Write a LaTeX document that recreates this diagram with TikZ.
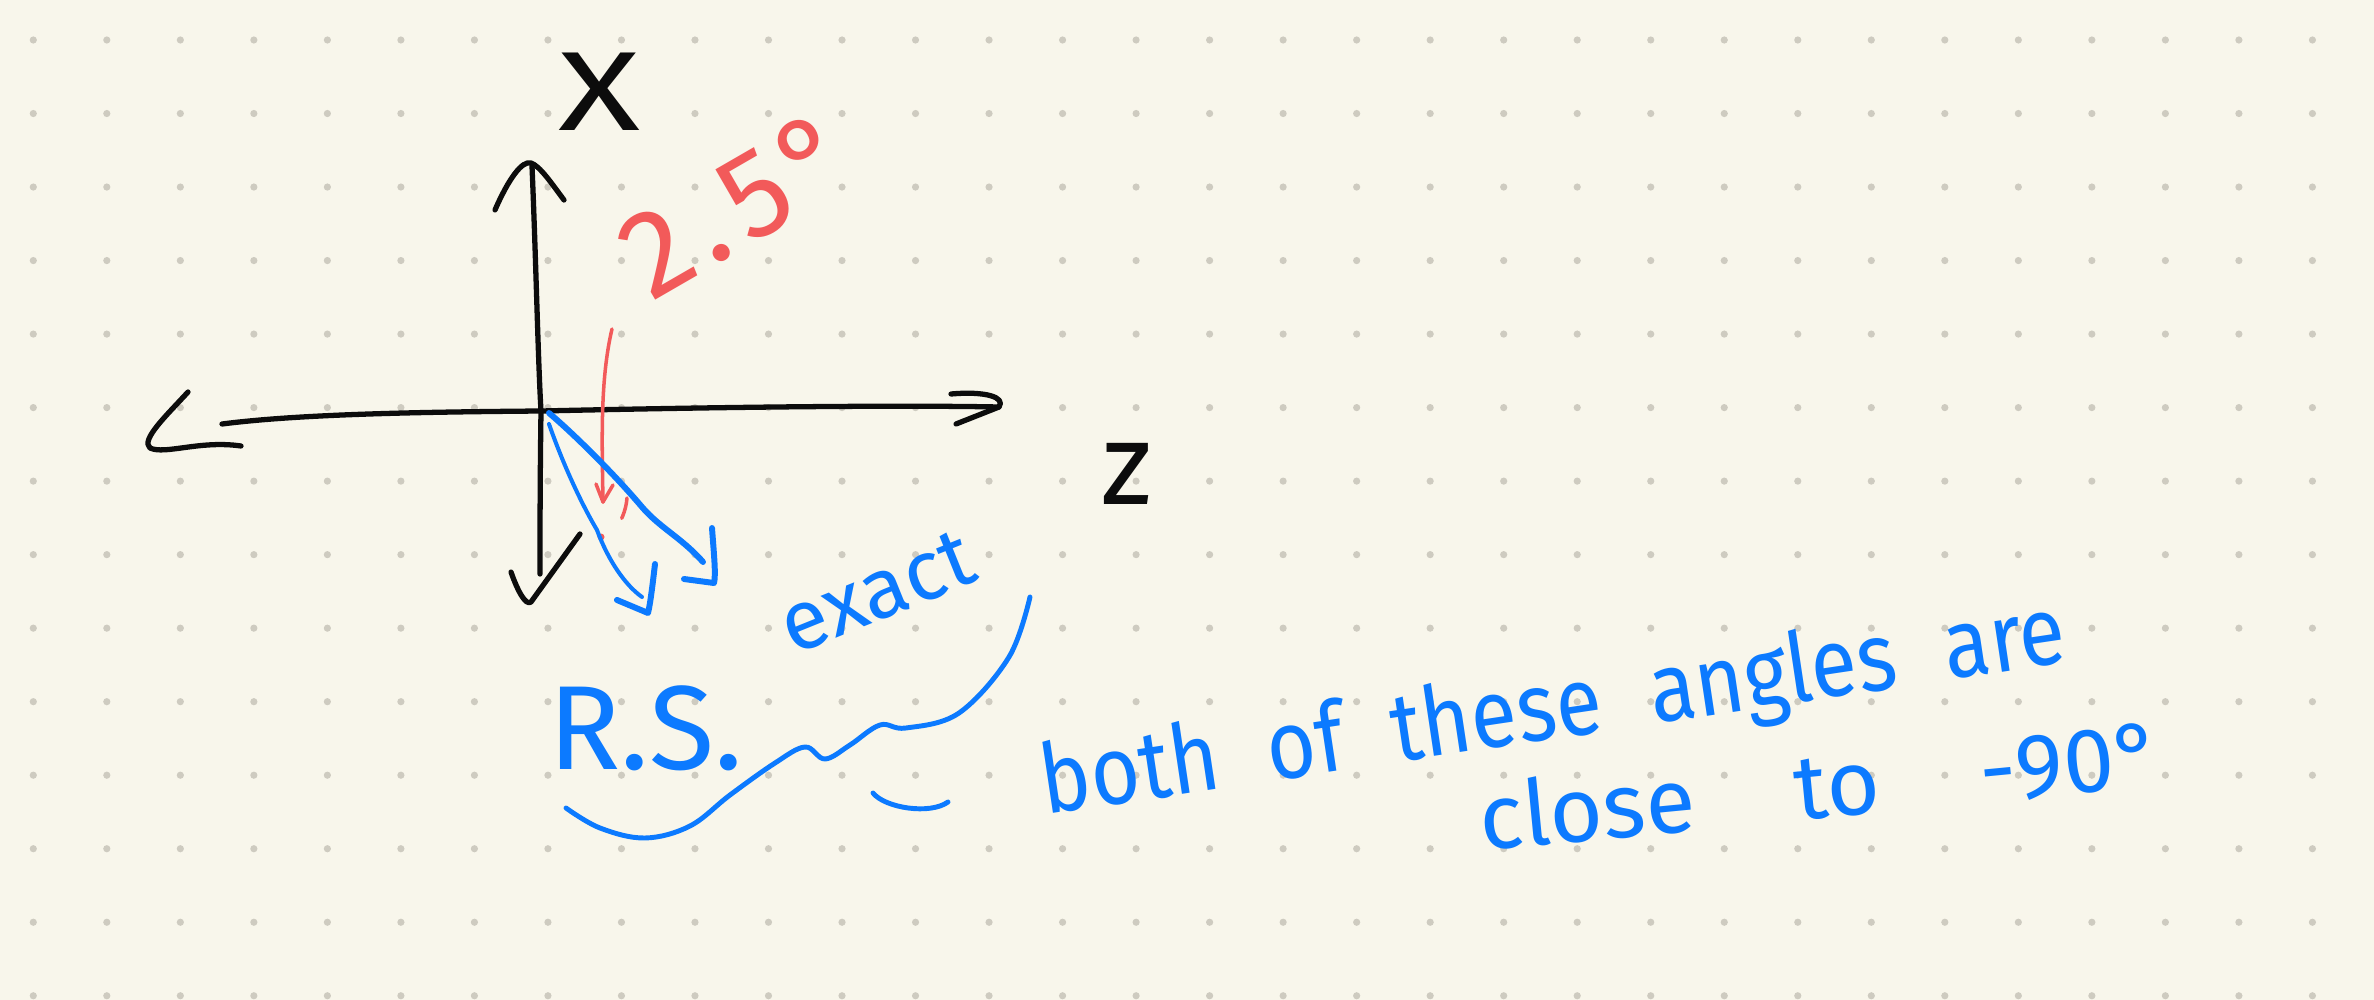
\documentclass[tikz,border=0pt]{standalone}
\usepackage{fontspec}
\setmainfont{Fira Sans}
\definecolor{paper}{RGB}{248,246,235}
\definecolor{dotc}{RGB}{206,203,192}
\definecolor{ink}{RGB}{12,12,12}
\definecolor{redink}{RGB}{242,90,90}
\definecolor{blueink}{RGB}{12,122,255}
\begin{document}
\begin{tikzpicture}[x=0.01cm,y=-0.01cm,line cap=round,line join=round,
  axispen/.style={draw=ink,line width=1.5pt},
  redpen/.style={draw=redink,line width=1.0pt},
  bluethick/.style={draw=blueink,line width=1.7pt},
  bluethin/.style={draw=blueink,line width=1.15pt},
  bluetext/.style={text=blueink,inner sep=0pt},
  blacktext/.style={text=ink,inner sep=0pt},
  redtext/.style={text=redink,inner sep=0pt}]
% paper
\fill[paper] (0,0) rectangle (2374,1000);
\useasboundingbox (0,0) rectangle (2374,1000);
\foreach \i in {0,...,31}{\foreach \j in {0,...,13}{
  \fill[dotc] (33.3+73.52*\i,40+73.52*\j) circle[radius=3.6];}}
% named points
\coordinate (O) at (541,411);
\coordinate (vtop) at (532,166);
\coordinate (vbot) at (540,574);
\coordinate (hleft) at (222,424);
\coordinate (hright) at (999,407);
% vertical axis
\draw[axispen] (vtop) .. controls (536,260) and (538,360) .. (O) .. controls (540,480) and (540,540) .. (vbot);
\draw[axispen] (495,210) .. controls (508,180) and (522,160) .. (531,163) .. controls (540,166) and (552,184) .. (564,200);
\draw[axispen] (511,572) .. controls (518,592) and (526,606) .. (531,602) -- (580,534);
% horizontal axis
\draw[axispen] (hleft) .. controls (300,414) and (420,412) .. (O) .. controls (720,407) and (900,405) .. (hright);
\draw[axispen] (188,392) .. controls (168,414) and (140,440) .. (150,448) .. controls (165,455) and (200,440) .. (241,446);
\draw[axispen] (951,394) .. controls (985,391) and (1006,397) .. (hright) -- (956,424);
% axis labels
\node[blacktext,xscale=1.35,font=\fontsize{32}{32}\selectfont] (xlab) at (600,92) {X};
\node[blacktext,font=\fontsize{33}{33}\selectfont] (zlab) at (1127,474) {z};
% red angle label and arrow
\node[redtext,rotate=30,font=\fontsize{35}{35}\selectfont] (ang) at (737,204) {2\kern0.08em.\kern0.1em5\kern0.06em°};
\coordinate (ra) at (612,329);
\coordinate (rb) at (603,502);
\draw[redpen] (ra) .. controls (600,380) and (602,440) .. (rb);
\draw[redpen] (596,484) -- (rb) -- (613,485);
\draw[redpen,dash pattern=on 6pt off 4pt] (627,498) .. controls (626,512) and (620,522) .. (616,530);
\fill[redink] (601,537) circle[radius=3.5];
% blue angle lines from origin
\draw[bluethick] (549,413) .. controls (575,435) and (615,475) .. (642,507) .. controls (660,528) and (682,538) .. (703,562);
\draw[bluethick] (712,528) .. controls (714,555) and (716,575) .. (714,583) -- (684,579);
\draw[bluethin] (549,424) .. controls (565,470) and (585,510) .. (597,530) .. controls (608,560) and (625,585) .. (642,597);
\draw[bluethick] (655,564) .. controls (652,590) and (650,605) .. (648,613) -- (617,600);
% blue notes
\node[bluetext,rotate=22,font=\fontsize{24}{24}\selectfont] (exact) at (877,592) {exact};
\node[bluetext,font=\fontsize{34}{34}\selectfont] (rs) at (646,728) {R.S.};
\coordinate (ws) at (566,808);
\coordinate (we) at (1030,597);
\draw[bluethin,line width=1.4pt] plot[smooth,tension=0.6] coordinates {(ws) (600,828) (645,838) (690,826) (730,795) (775,763) (805,747) (825,759) (850,745) (880,725) (906,728) (959,713) (1009,657) (we)};
\draw[bluethin,line width=1.4pt] (873,793) .. controls (885,808) and (930,815) .. (948,802);
\node[bluetext,rotate=8.5,anchor=base west,yscale=1.15,font=\fontsize{24}{24}\selectfont] (both) at (1045,815)
  {both\hspace{0.58em}of\hspace{0.58em}these\hspace{0.58em}angles\hspace{0.58em}are};
\node[bluetext,rotate=5.5,anchor=base west,font=\fontsize{26}{26}\selectfont] (close) at (1482,851)
  {close\hspace{1.1em}to\hspace{1.1em}-90°};
\end{tikzpicture}
\end{document}
